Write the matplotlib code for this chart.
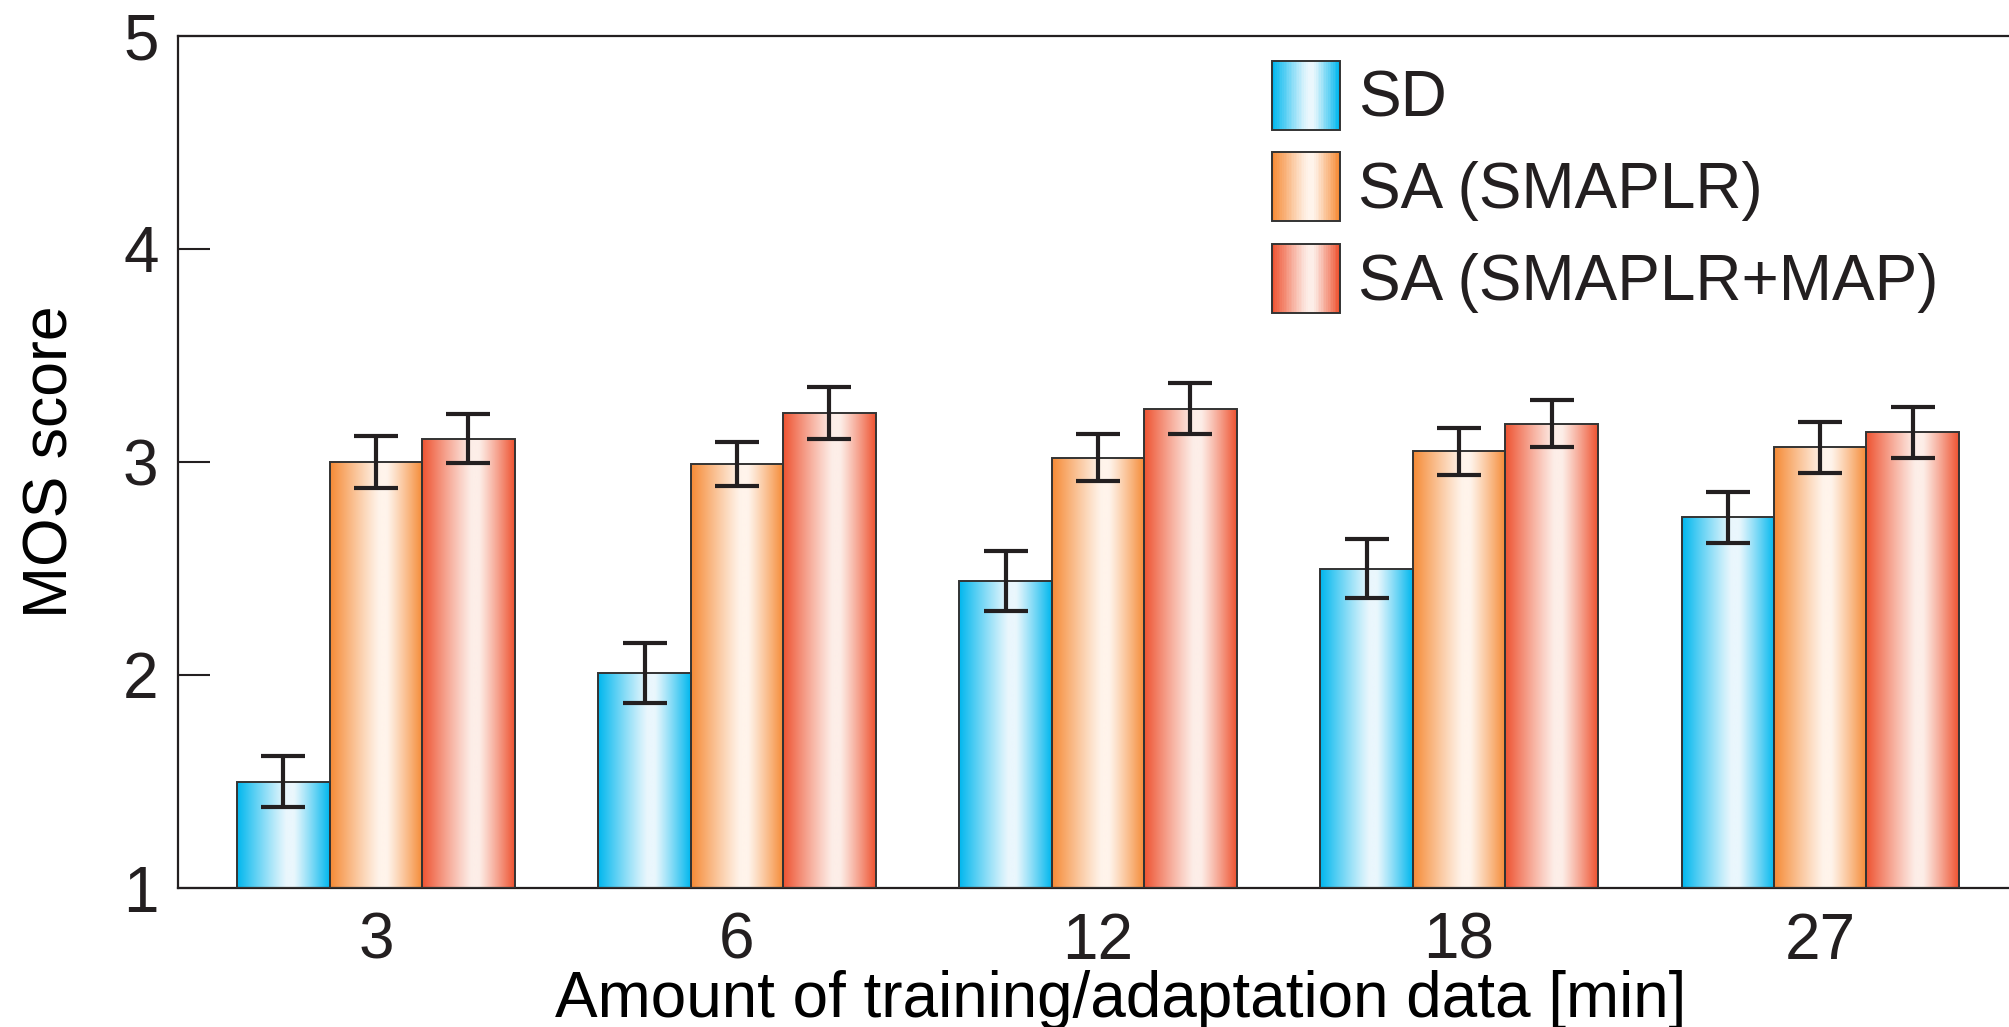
import numpy as np
import matplotlib
matplotlib.use('Agg')
import matplotlib.pyplot as plt
from matplotlib.patches import Rectangle
from matplotlib.legend_handler import HandlerBase
from matplotlib.colors import to_rgb

# data
durations = ['3', '6', '12', '18', '27']
systems = ['SD', 'SA (SMAPLR)', 'SA (SMAPLR+MAP)']
sd_mean = [1.50, 2.01, 2.44, 2.50, 2.74]
sd_err = [0.12, 0.14, 0.14, 0.14, 0.12]
smaplr_mean = [3.00, 2.99, 3.02, 3.05, 3.07]
smaplr_err = [0.12, 0.105, 0.11, 0.11, 0.12]
map_mean = [3.11, 3.23, 3.25, 3.18, 3.14]
map_err = [0.115, 0.12, 0.12, 0.11, 0.12]

means = [sd_mean, smaplr_mean, map_mean]
errs = [sd_err, smaplr_err, map_err]
dark_colors = ['#00B7EE', '#F58A35', '#EE5331']
light_colors = ['#EAF7FD', '#FFF4EB', '#FDEEE8']

ink = '#231F20'
fs = 46
plt.rcParams['font.family'] = ['Liberation Sans', 'DejaVu Sans']
plt.rcParams['text.color'] = ink


def gradient_row(dark, light, n=200):
    # horizontal shading: saturated edges, pale band just right of centre
    t = np.linspace(0, 1, n)
    p = 0.58
    d = np.where(t < p, (p - t) / p, (t - p) / (1 - p))
    d = np.clip((d - 0.08) / 0.92, 0, 1) ** 1.1
    dk = np.array(to_rgb(dark))
    lt = np.array(to_rgb(light))
    return lt[None, :] + (dk - lt)[None, :] * d[:, None]


class GradientHandler(HandlerBase):
    def __init__(self, dark, light):
        super().__init__()
        self.dark = dark
        self.light = light

    def create_artists(self, legend, orig_handle, xdescent, ydescent,
                       width, height, fontsize, trans):
        cols = gradient_row(self.dark, self.light, 40)
        artists = []
        step = width / len(cols)
        for i, c in enumerate(cols):
            artists.append(Rectangle((-xdescent + i * step, -ydescent), step * 1.05, height,
                                     facecolor=c, edgecolor='none', transform=trans))
        artists.append(Rectangle((-xdescent, -ydescent), width, height, facecolor='none',
                                 edgecolor='#333333', linewidth=1.4, transform=trans))
        return artists


fig = plt.figure(figsize=(20.09, 10.27), dpi=100)
ax = fig.add_axes([178 / 2009, 1 - 888 / 1027, 1 - 178 / 2009, (888 - 36) / 1027])

x = np.arange(len(durations))
width = 0.256
for k in range(3):
    pos = x + (k - 1) * width
    bars = ax.bar(pos, np.array(means[k]) - 1, width, bottom=1, facecolor='none',
                  edgecolor='#333333', linewidth=1.4, zorder=3)
    grad = gradient_row(dark_colors[k], light_colors[k])[None, :, :]
    for b in bars:
        x0, y0 = b.get_x(), b.get_y()
        im = ax.imshow(grad, extent=(x0, x0 + b.get_width(), y0, y0 + b.get_height()),
                       aspect='auto', zorder=2, interpolation='bilinear')
        im.set_clip_path(b)
    ax.errorbar(pos, means[k], yerr=errs[k], fmt='none', ecolor=ink, elinewidth=3.0,
                capsize=15.5, capthick=3.0, zorder=4)

ax.set_xlim(-0.548, 4.523)
ax.set_ylim(1, 5)
ax.set_aspect('auto')

ax.set_yticks([1, 2, 3, 4, 5])
ax.set_xticks(x)
ax.set_xticklabels(durations)
ax.tick_params(axis='y', direction='in', length=23, width=1.5, color=ink,
               labelsize=fs, pad=14, labelcolor=ink)
ax.tick_params(axis='x', length=0, labelsize=fs, pad=17, labelcolor=ink)

for side in ['left', 'bottom', 'top']:
    ax.spines[side].set_color(ink)
    ax.spines[side].set_linewidth(1.6)
ax.spines['right'].set_visible(False)

ax.set_ylabel('MOS score', fontsize=45)
ax.yaxis.set_label_coords(-(178 - 51) / (2009 - 178), 0.5)
ax.set_xlabel('Amount of training/adaptation data [min]', fontsize=fs)
ax.xaxis.set_label_coords((1121 - 178) / (2009 - 178), -(1000 - 888) / 852)
ax.xaxis.label.set_va('center')
ax.yaxis.label.set_va('center')

# legend with shaded swatches
proxies = [Rectangle((0, 0), 1, 1) for _ in systems]
hmap = {p: GradientHandler(dark_colors[i], light_colors[i]) for i, p in enumerate(proxies)}
ax.legend(proxies, systems, handler_map=hmap, loc='upper left',
          bbox_to_anchor=(1272 / 2009, 1 - 61 / 1027), bbox_transform=fig.transFigure,
          frameon=False, fontsize=fs, handlelength=1.06, handleheight=1.285,
          handletextpad=0.28, labelspacing=0.35, borderpad=0, borderaxespad=0)

fig.savefig('out.png', dpi=100)
